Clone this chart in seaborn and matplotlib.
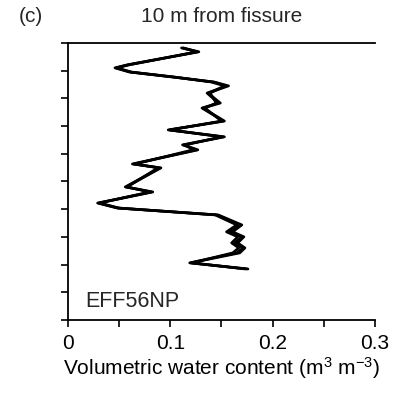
import matplotlib
matplotlib.use("Agg")
import matplotlib.pyplot as plt
import seaborn as sns
import pandas as pd

# depth below surface (arbitrary units, 0 = top of axis)
depth = [1.8, 3.2, 7.9, 9.0, 10.5, 12.3, 14.1, 15.5, 18.1, 21.7, 23.5, 28.2,
         31.4, 33.9, 36.8, 38.6, 43.7, 45.1, 52.0, 53.8, 57.8, 59.6, 62.1,
         65.7, 68.2, 70.0, 72.2, 74.0, 75.8, 79.4, 81.6]
# repeated profiles (overlapping runs)
vwc_run1 = [0.111, 0.127, 0.058, 0.046, 0.060, 0.103, 0.142, 0.155, 0.136,
            0.147, 0.131, 0.152, 0.098, 0.152, 0.112, 0.126, 0.063, 0.090,
            0.056, 0.082, 0.029, 0.048, 0.146, 0.168, 0.158, 0.170, 0.163,
            0.171, 0.165, 0.119, 0.175]
vwc_run2 = [0.113, 0.126, 0.060, 0.048, 0.062, 0.104, 0.140, 0.153, 0.139,
            0.145, 0.134, 0.150, 0.100, 0.150, 0.115, 0.122, 0.066, 0.088,
            0.058, 0.080, 0.031, 0.050, 0.144, 0.165, 0.155, 0.166, 0.160,
            0.167, 0.161, 0.121, 0.173]
vwc_run3 = [0.112, 0.128, 0.059, 0.047, 0.061, 0.102, 0.143, 0.157, 0.137,
            0.149, 0.132, 0.153, 0.099, 0.153, 0.113, 0.127, 0.064, 0.091,
            0.057, 0.083, 0.030, 0.049, 0.147, 0.170, 0.161, 0.172, 0.166,
            0.173, 0.168, 0.120, 0.176]

title = "10 m from fissure"
panel = "(c)"
site = "EFF56NP"
xticks = [0, 0.05, 0.1, 0.15, 0.2, 0.25, 0.3]
xticklabels = ["0", "", "0.1", "", "0.2", "", "0.3"]

rows = []
for name, vals in [("r1", vwc_run1), ("r2", vwc_run2), ("r3", vwc_run3)]:
    for d, v in zip(depth, vals):
        rows.append({"run": name, "depth": d, "vwc": v})
df = pd.DataFrame(rows)

sns.set_style("ticks")
plt.rcParams["font.family"] = ["Liberation Sans", "DejaVu Sans"]
plt.rcParams["mathtext.fontset"] = "custom"
plt.rcParams["mathtext.rm"] = "Liberation Sans"
plt.rcParams["mathtext.it"] = "Liberation Sans"
plt.rcParams["mathtext.default"] = "regular"

fig = plt.figure(figsize=(4.04, 3.94), dpi=100)
ax = fig.add_axes([0.168, 0.188, 0.760, 0.703])

sns.lineplot(data=df, x="vwc", y="depth", units="run", estimator=None,
             sort=False, color="black", linewidth=1.9, ax=ax, legend=False)

ax.set_xlim(0, 0.3)
ax.set_ylim(100, 0)
ax.set_xticks(xticks)
ax.set_xticklabels(xticklabels)
ax.set_yticks(range(0, 101, 10))
ax.set_yticklabels([])
ax.tick_params(axis="both", direction="out", length=5, width=1.2,
               color="black", labelsize=15, labelcolor="black", pad=5)
ax.set_xlabel("Volumetric water content (m$^3$ m$^{-3}$)", fontsize=15,
              color="black", labelpad=2)
ax.set_ylabel("")
for side in ["left", "bottom", "top"]:
    ax.spines[side].set_color("black")
    ax.spines[side].set_linewidth(1.3)
ax.spines["right"].set_visible(False)

fig.text(0.548, 0.958, title, ha="center", va="center", fontsize=15)
fig.text(0.077, 0.958, panel, ha="center", va="center", fontsize=15)
ax.text(0.055, 0.03, site, transform=ax.transAxes, ha="left",
        va="bottom", fontsize=15.5)

fig.savefig("out.png", dpi=100)
